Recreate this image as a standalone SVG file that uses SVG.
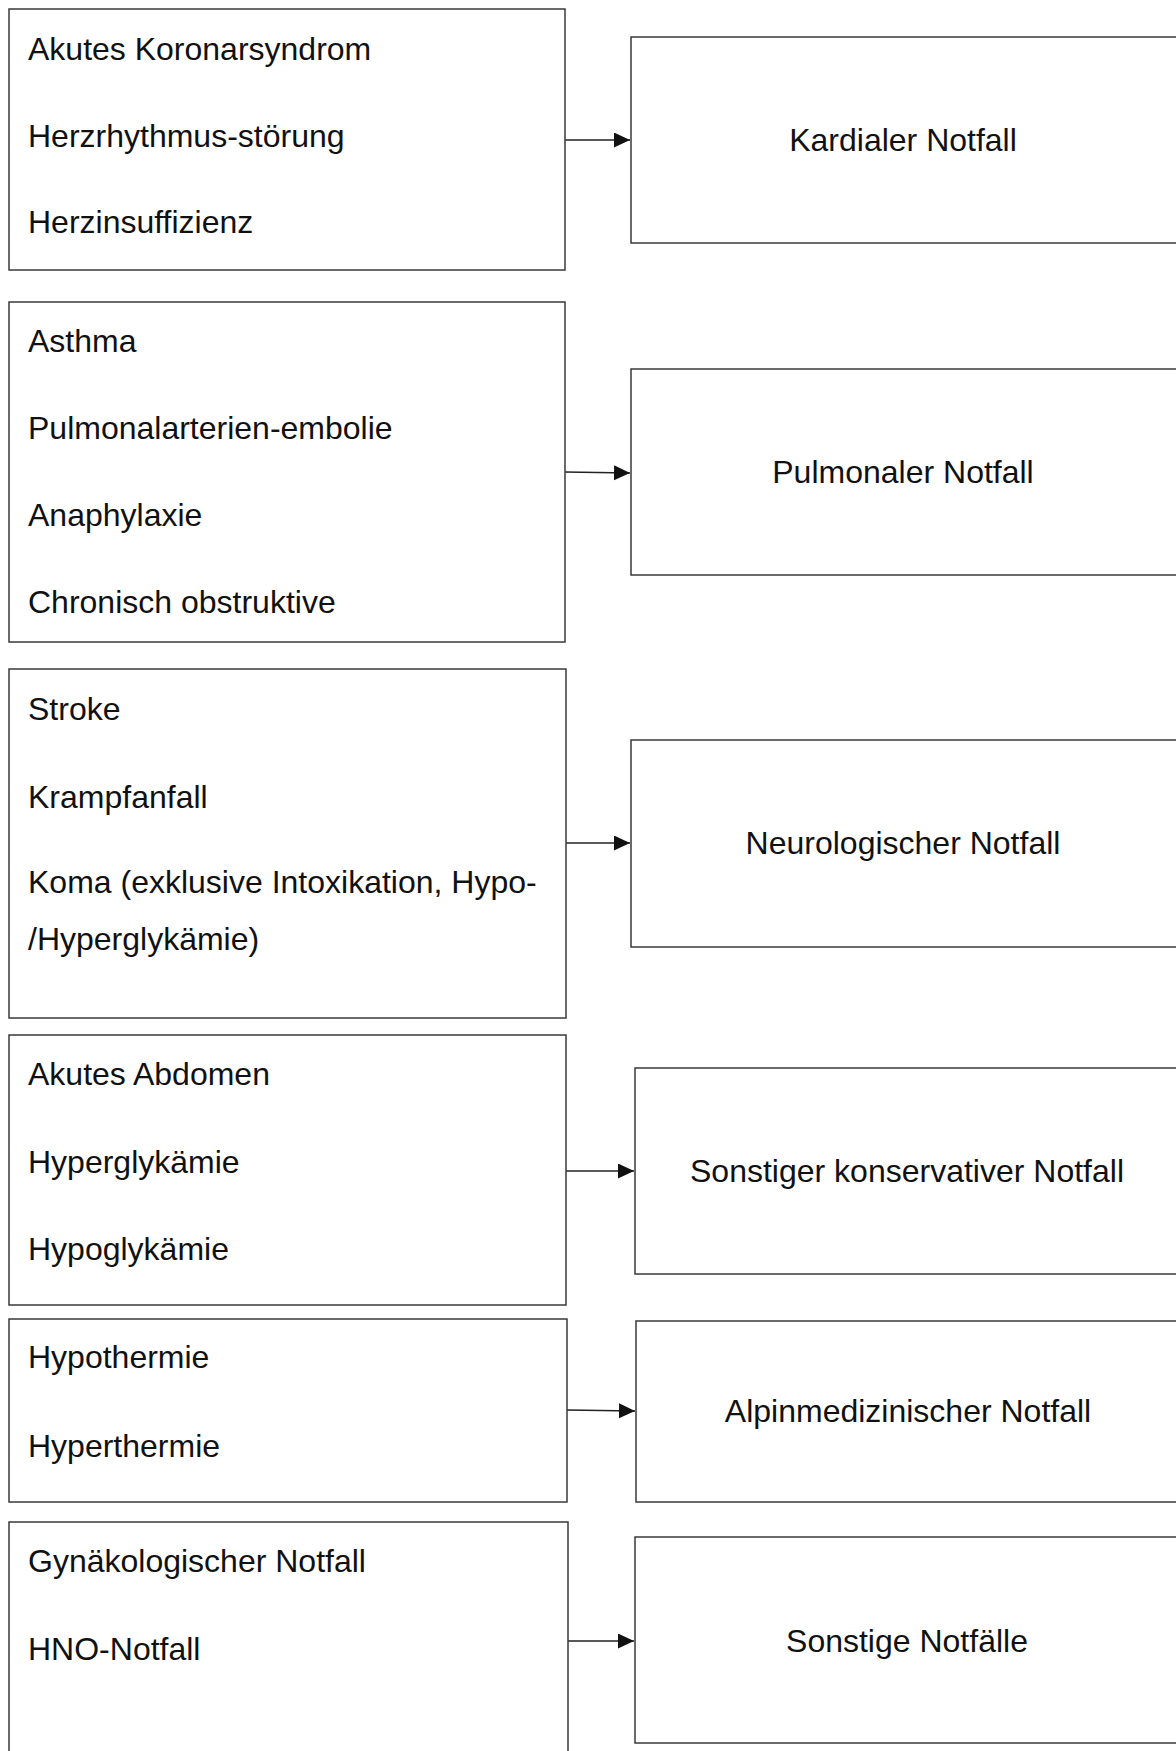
<svg xmlns="http://www.w3.org/2000/svg" width="1176" height="1751" viewBox="0 0 1176 1751">
<style>
.box{fill:#fff;stroke:#3a3a3a;stroke-width:1.5}
.t{font-family:"Liberation Sans",Arial,sans-serif;font-size:32px;fill:#111}
.c{text-anchor:middle}
.conn{stroke:#222;stroke-width:1.5;fill:none}
</style>
<defs>
<marker id="ah" markerUnits="userSpaceOnUse" markerWidth="18" markerHeight="16" refX="16" refY="7.5" orient="auto">
<path d="M0,0 L16,7.5 L0,15 Z" fill="#111"/>
</marker>
</defs>
<rect width="1176" height="1751" fill="#fff"/>
<g id="connectors">
<line class="conn" x1="565" y1="140" x2="630" y2="140" marker-end="url(#ah)"/>
<line class="conn" x1="565" y1="472" x2="630" y2="473" marker-end="url(#ah)"/>
<line class="conn" x1="566" y1="843" x2="630" y2="843" marker-end="url(#ah)"/>
<line class="conn" x1="566" y1="1171" x2="634" y2="1171" marker-end="url(#ah)"/>
<line class="conn" x1="567" y1="1410" x2="635" y2="1411" marker-end="url(#ah)"/>
<line class="conn" x1="568" y1="1641" x2="634" y2="1641" marker-end="url(#ah)"/>
</g>
<g id="src1"><rect class="box" x="9" y="9" width="556" height="261"/>
<text class="t" x="28" y="60">Akutes Koronarsyndrom</text>
<text class="t" x="28" y="147">Herzrhythmus-störung</text>
<text class="t" x="28" y="233">Herzinsuffizienz</text></g>
<g id="dst1"><rect class="box" x="631" y="37" width="560" height="206"/>
<text class="t c" x="903" y="151">Kardialer Notfall</text></g>
<g id="src2"><rect class="box" x="9" y="302" width="556" height="340"/>
<text class="t" x="28" y="352">Asthma</text>
<text class="t" x="28" y="439">Pulmonalarterien-embolie</text>
<text class="t" x="28" y="526">Anaphylaxie</text>
<text class="t" x="28" y="613">Chronisch obstruktive</text></g>
<g id="dst2"><rect class="box" x="631" y="369" width="560" height="206"/>
<text class="t c" x="903" y="483">Pulmonaler Notfall</text></g>
<g id="src3"><rect class="box" x="9" y="669" width="557" height="349"/>
<text class="t" x="28" y="720">Stroke</text>
<text class="t" x="28" y="808">Krampfanfall</text>
<text class="t" x="28" y="893">Koma (exklusive Intoxikation, Hypo-</text>
<text class="t" x="28" y="950">/Hyperglykämie)</text></g>
<g id="dst3"><rect class="box" x="631" y="740" width="560" height="207"/>
<text class="t c" x="903" y="854">Neurologischer Notfall</text></g>
<g id="src4"><rect class="box" x="9" y="1035" width="557" height="270"/>
<text class="t" x="28" y="1085">Akutes Abdomen</text>
<text class="t" x="28" y="1173">Hyperglykämie</text>
<text class="t" x="28" y="1260">Hypoglykämie</text></g>
<g id="dst4"><rect class="box" x="635" y="1068" width="560" height="206"/>
<text class="t c" x="907" y="1182">Sonstiger konservativer Notfall</text></g>
<g id="src5"><rect class="box" x="9" y="1319" width="558" height="183"/>
<text class="t" x="28" y="1368">Hypothermie</text>
<text class="t" x="28" y="1457">Hyperthermie</text></g>
<g id="dst5"><rect class="box" x="636" y="1321" width="560" height="181"/>
<text class="t c" x="908" y="1422">Alpinmedizinischer Notfall</text></g>
<g id="src6"><rect class="box" x="9" y="1522" width="559" height="260"/>
<text class="t" x="28" y="1572">Gynäkologischer Notfall</text>
<text class="t" x="28" y="1660">HNO-Notfall</text></g>
<g id="dst6"><rect class="box" x="635" y="1537" width="560" height="206"/>
<text class="t c" x="907" y="1652">Sonstige Notfälle</text></g>
</svg>
